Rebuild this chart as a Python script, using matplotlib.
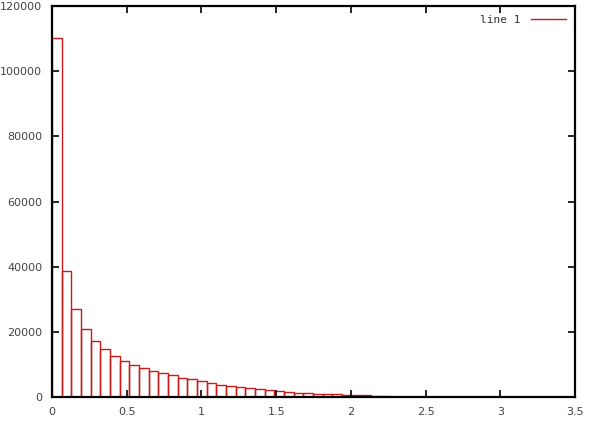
import numpy as np
import matplotlib
matplotlib.use("Agg")
import matplotlib.pyplot as plt
from matplotlib.lines import Line2D

# histogram bins (left edges) and counts
bin_width = 0.0647
counts = [110300, 38600, 26900, 20950, 17060, 14700, 12680, 10940, 9710, 8790,
          7870, 7350, 6740, 5820, 5420, 4810, 4410, 3750, 3400, 3050,
          2630, 2330, 2020, 1720, 1530, 1230, 1230, 1000, 900, 850,
          700, 650, 500, 450, 400]
bin_left = np.arange(len(counts)) * bin_width

x_ticks = [0, 0.5, 1, 1.5, 2, 2.5, 3, 3.5]
x_tick_labels = ["0", "0.5", "1", "1.5", "2", "2.5", "3", "3.5"]
y_ticks = [0, 20000, 40000, 60000, 80000, 100000, 120000]

red = "#cc1a1a"

fig = plt.figure(figsize=(6, 4.28), dpi=100)
ax = fig.add_axes([52 / 600, 31 / 428, 523 / 600, 391 / 428])

ax.bar(bin_left, counts, width=bin_width, align="edge", fill=False,
       edgecolor=red, linewidth=1.0)

ax.set_xlim(0, 3.5)
ax.set_ylim(0, 120000)
ax.set_xticks(x_ticks)
ax.set_xticklabels(x_tick_labels)
ax.set_yticks(y_ticks)
ax.set_yticklabels([str(v) for v in y_ticks])

ax.tick_params(direction="in", length=5, width=1.2, top=True, right=True,
               labelsize=8, labelcolor="#444444", pad=7)
for s in ax.spines.values():
    s.set_linewidth(1.6)

# gnuplot style key: text then sample line
handle = Line2D([], [], color=red, linewidth=1.0)
ax.legend([handle], ["line 1"], loc="upper right", frameon=False,
          markerfirst=False, handlelength=3.2, handletextpad=0.9,
          borderaxespad=0.4, labelcolor="#333333",
          prop={"family": "DejaVu Sans Mono", "size": 8})

fig.savefig("out.png", dpi=100)
